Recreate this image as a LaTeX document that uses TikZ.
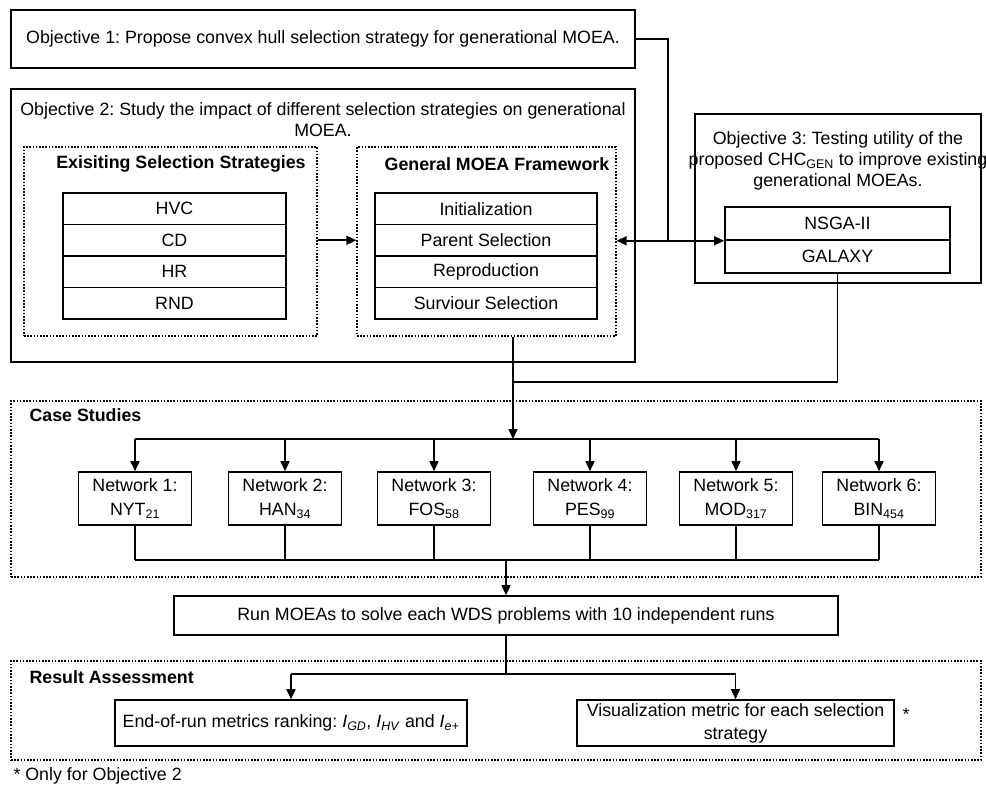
\documentclass[tikz,border=0pt]{standalone}
\usepackage{fontspec}
\setmainfont{Liberation Sans}
\usetikzlibrary{arrows.meta,positioning}

\newcommand{\metric}[1]{\textit{I}\textsubscript{\textit{#1}}}
\frenchspacing

\begin{document}
\begin{tikzpicture}[
    x=1pt, y=-1pt,
    font=\fontsize{17.8}{21}\selectfont,
    block/.style={
        draw,
        rectangle,
        line width=1.6pt,
        inner sep=2pt,
        align=center
    },
    group/.style={
        draw,
        rectangle,
        line width=1.2pt,
        dash pattern=on 1.6pt off 1.6pt
    },
    heading/.style={
        font=\fontsize{17.8}{21}\selectfont\bfseries
    },
    line/.style={
        line width=1.6pt
    },
    arrow/.style={
        line,
        -{Triangle[length=10pt,width=9pt]}
    },
    darrow/.style={
        line,
        {Triangle[length=10pt,width=9pt]}-{Triangle[length=10pt,width=9pt]}
    }
]
\useasboundingbox (0,0) rectangle (986,792);

% Objective 1
\node[block, minimum width=624pt, minimum height=58pt] at (323,39) (obj1)
    {Objective 1: Propose convex hull selection strategy for generational MOEA.};

% Objective 2: selection strategies and framework
\node[block, minimum width=624pt, minimum height=273pt] at (323,225.5) (obj2) {};
\node[align=center] at (323,120) (obj2text)
    {Objective 2: Study the impact of different selection strategies on generational\\MOEA.};

\node[group, minimum width=293pt, minimum height=189pt] at (170.5,241.5) (exsel) {};
\node[heading] at (181,164) (exselhead) {Exisiting Selection Strategies};
\foreach \lbl [count=\i] in {HVC,CD,HR,RND}
    \node[block, minimum width=223pt, minimum height=31.5pt] at (174.5,177.25+31.5*\i) (sel\i) {\lbl};

\node[group, minimum width=259pt, minimum height=189pt] at (486.5,241.5) (gen) {};
\node[heading] at (497,164) (genhead) {General MOEA Framework};
\foreach \lbl [count=\i] in {Initialization,Parent Selection,Reproduction,Surviour Selection}
    \node[block, minimum width=222pt, minimum height=31.5pt] at (486,177.25+31.5*\i) (fw\i) {\lbl};

% Objective 3: existing MOEAs
\node[block, minimum width=286pt, minimum height=169pt] at (838,198.5) (obj3) {};
\node[align=center] at (838,161) (obj3text)
    {Objective 3: Testing utility of the\\proposed CHC\textsubscript{GEN} to improve existing\\generational MOEAs.};
\node[block, minimum width=225pt, minimum height=33pt] at (837.5,223.5) (moea1) {NSGA-II};
\node[block, minimum width=225pt, minimum height=33pt] at (837.5,256.5) (moea2) {GALAXY};

% Arrows between the objectives
\coordinate (join) at (668,240);
\draw[arrow] (exsel.east |- fw2) -- (gen.west |- fw2);
\draw[darrow] (gen.east |- moea1.south) -- (moea1.south west);
\draw[line] (obj1.east) -| (join);

% Case studies
\node[group, minimum width=970pt, minimum height=176pt] at (496,489) (cases) {};
\node[heading, anchor=west] at (26,415) (caseshead) {Case Studies};
\foreach \x/\lbl [count=\i] in {135/NYT\textsubscript{21},285/HAN\textsubscript{34},434/FOS\textsubscript{58},590/PES\textsubscript{99},736/MOD\textsubscript{317},879/BIN\textsubscript{454}}
    \node[block, minimum width=113pt, minimum height=53pt,
          font=\fontsize{17.8}{24}\selectfont] at (\x,498.5) (net\i) {Network \i:\\\lbl};

\coordinate (merge) at (513,382);
\coordinate (split) at (513,439);
\coordinate (collect) at (506,560);
\draw[line] (moea2.south) |- (merge);
\draw[arrow] (gen.south -| split) -- (split);
\draw[line] (net1.north |- split) -- (net6.north |- split);
\draw[line] (net1.south |- collect) -- (net6.south |- collect);
\foreach \i in {1,...,6} {
    \draw[arrow] (net\i.north |- split) -- (net\i);
    \draw[line] (net\i) -- (net\i.south |- collect);
}

% Runs
\node[block, minimum width=664pt, minimum height=39pt] at (506,615.5) (run)
    {Run MOEAs to solve each WDS problems with 10 independent runs};
\draw[arrow] (collect) -- (run);

% Result assessment
\node[group, minimum width=970pt, minimum height=99pt] at (496,710.5) (result) {};
\node[heading, anchor=west] at (26,677) (resulthead) {Result Assessment};
\node[block, minimum width=352pt, minimum height=46pt] at (291,723) (rank)
    {End-of-run metrics ranking: \metric{GD}, \metric{HV} and \metric{e+}};
\node[block, minimum width=317pt, minimum height=46pt,
      font=\fontsize{17.8}{23}\selectfont] at (735.5,723) (vis)
    {Visualization metric for each selection\\strategy};
\node[anchor=west] at (899,714) (star) {*};

\coordinate (split2) at (506,674);
\draw[line] (run) -- (split2);
\draw[line] (rank.north |- split2) -- (vis.north |- split2);
\draw[arrow] (rank.north |- split2) -- (rank);
\draw[arrow] (vis.north |- split2) -- (vis);

\node[anchor=west] at (10,776) (note) {* Only for Objective 2};

\end{tikzpicture}
\end{document}
